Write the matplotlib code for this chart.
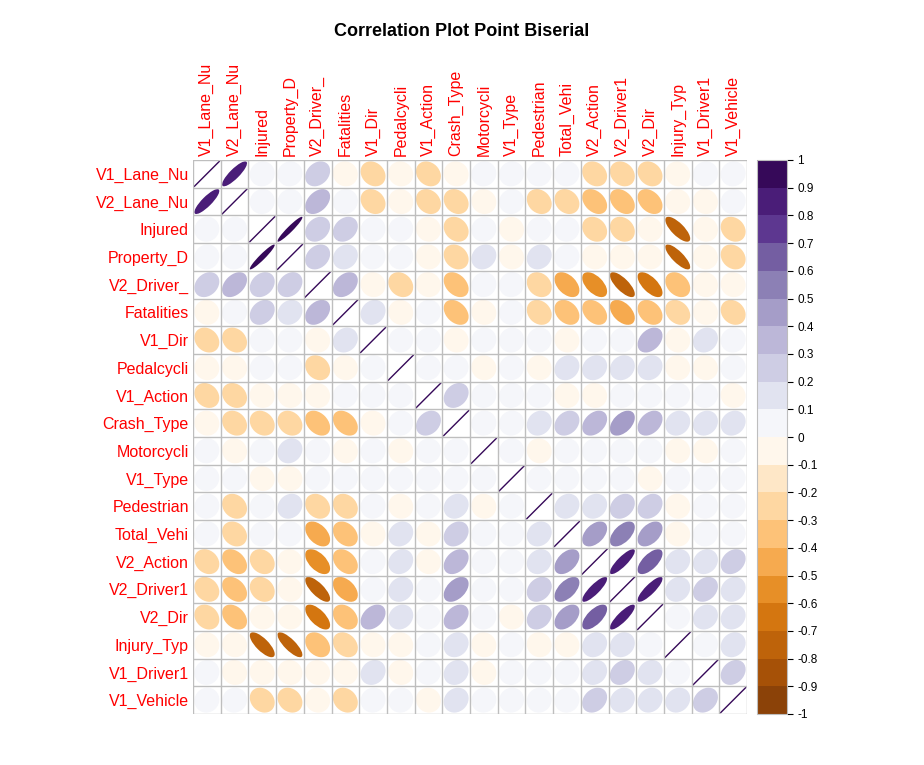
import numpy as np
import matplotlib
matplotlib.use("Agg")
import matplotlib.pyplot as plt
from matplotlib.patches import Ellipse
from matplotlib.colors import ListedColormap, BoundaryNorm, LinearSegmentedColormap
import matplotlib.colorbar as mcb

plt.rcParams['font.family'] = ['Liberation Sans', 'DejaVu Sans']

labels = ["V1_Lane_Nu","V2_Lane_Nu","Injured","Property_D","V2_Driver_","Fatalities","V1_Dir",
          "Pedalcycli","V1_Action","Crash_Type","Motorcycli","V1_Type","Pedestrian","Total_Vehi",
          "V2_Action","V2_Driver1","V2_Dir","Injury_Typ","V1_Driver1","V1_Vehicle"]

corr = [
 [1,.85,.05,.05,.25,-.05,-.2,-.05,-.2,-.05,.05,.05,.05,.05,-.2,-.2,-.2,-.05,.05,.05],
 [.85,1,.05,.05,.4,.05,-.2,-.05,-.2,-.2,-.05,.05,-.2,-.2,-.35,-.35,-.35,-.05,-.05,.05],
 [.05,.05,1,.95,.25,.25,.05,.05,-.05,-.2,.05,-.05,.05,.05,-.2,-.2,-.05,-.75,-.05,-.2],
 [.05,.05,.95,1,.25,.15,.05,.05,-.05,-.2,.15,-.05,.15,.05,-.05,-.05,-.05,-.8,-.05,-.2],
 [.25,.4,.25,.25,1,.35,-.05,-.2,-.05,-.35,.05,.05,-.2,-.45,-.55,-.75,-.65,-.3,-.05,-.05],
 [-.05,.05,.25,.15,.35,1,.15,-.05,.05,-.35,-.05,.05,-.2,-.3,-.35,-.45,-.3,-.25,-.05,-.2],
 [-.2,-.2,.05,.05,-.05,.15,1,.05,.05,-.05,.05,.05,.05,-.05,.05,.05,.35,-.05,.15,.05],
 [-.05,-.05,.05,.05,-.2,-.05,.05,1,.05,.05,-.05,.05,-.05,.15,.15,.15,.15,-.05,-.05,.05],
 [-.2,-.2,-.05,-.05,-.05,.05,.05,.05,1,.25,.05,.05,.05,-.05,-.05,.05,.05,.05,.05,-.05],
 [-.05,-.2,-.2,-.2,-.35,-.35,-.05,.05,.25,1,.05,.05,.15,.25,.35,.45,.35,.15,.15,.15],
 [.05,-.05,.05,.15,.05,-.05,.05,-.05,.05,.05,1,.05,-.05,.05,.05,.05,.05,-.05,-.05,.05],
 [.05,.05,-.05,-.05,.05,.05,.05,.05,.05,.05,.05,1,.05,.05,.05,.05,-.05,.05,.05,.05],
 [.05,-.2,.05,.15,-.2,-.2,.05,-.05,.05,.15,-.05,.05,1,.15,.15,.25,.25,-.05,.05,.05],
 [.05,-.2,.05,.05,-.45,-.3,-.05,.15,-.05,.25,.05,.05,.15,1,.45,.55,.45,-.05,.05,.05],
 [-.2,-.35,-.2,-.05,-.55,-.35,.05,.15,-.05,.35,.05,.05,.15,.45,1,.85,.65,.15,.15,.25],
 [-.2,-.35,-.2,-.05,-.75,-.45,.05,.15,.05,.45,.05,.05,.25,.55,.85,1,.85,.15,.25,.15],
 [-.2,-.35,-.05,-.05,-.65,-.3,.35,.15,.05,.35,.05,-.05,.25,.45,.65,.85,1,.05,.15,.15],
 [-.05,-.05,-.75,-.8,-.3,-.25,-.05,-.05,.05,.15,-.05,.05,-.05,-.05,.15,.15,.05,1,.05,.15],
 [.05,-.05,-.05,-.05,-.05,-.05,.15,-.05,.05,.15,-.05,.05,.05,.05,.15,.25,.15,.05,1,.25],
 [.05,.05,-.2,-.2,-.05,-.2,.05,.05,-.05,.15,.05,.05,.05,.05,.25,.15,.15,.15,.25,1],
]
corr = np.array(corr)
n = len(labels)

pal = ["#7F3B08","#B35806","#E08214","#FDB863","#FEE0B6","#FFFFFF",
       "#D8DAEB","#B2ABD2","#8073AC","#542788","#2D004B"]
base = LinearSegmentedColormap.from_list("col2", pal)
centers = np.linspace(-0.95, 0.95, 20)
cmap = ListedColormap([base((c + 1) / 2) for c in centers])
bounds = np.linspace(-1, 1, 21)
norm = BoundaryNorm(bounds, cmap.N)

fig = plt.figure(figsize=(9.24, 7.65), dpi=100)
ax = fig.add_axes([193/924, 51/765, 554/924, 554/765])
ax.set_xlim(0, n); ax.set_ylim(n, 0)
for i in range(n):
    for j in range(n):
        r = corr[i, j]
        col = cmap(norm(r))
        L = 0.9
        w = L * np.sqrt(1 + abs(r)); h = L * np.sqrt(max(1 - abs(r), 0.0))
        ang = -45 if r > 0 else 45
        if h < 0.02:
            d = 0.45
            s = 1 if r > 0 else -1
            ax.plot([j+0.5-d, j+0.5+d], [i+0.5+s*d, i+0.5-s*d], color=col, lw=1)
        else:
            ax.add_patch(Ellipse((j+0.5, i+0.5), w, h, angle=ang, facecolor=col, edgecolor='none'))
for k in range(n+1):
    ax.axhline(k, color='#BEBEBE', lw=1)
    ax.axvline(k, color='#BEBEBE', lw=1)
ax.set_xticks(np.arange(n)+0.5)
ax.set_yticks(np.arange(n)+0.5)
ax.set_xticklabels(labels, rotation=90, color='red', fontsize=11.5)
ax.set_yticklabels(labels, color='red', fontsize=11.5)
ax.xaxis.tick_top()
ax.tick_params(length=0, pad=3)
for s in ax.spines.values():
    s.set_visible(False)

cax = fig.add_axes([757/924, 51/765, 30/924, 554/765])
ticks = np.round(np.linspace(-1, 1, 21), 1)
cb = mcb.ColorbarBase(cax, cmap=cmap, norm=norm, boundaries=bounds, ticks=ticks)
cb.ax.set_yticklabels([("%g" % t) for t in ticks], fontsize=8.5)
cb.outline.set_edgecolor('#BEBEBE')
cb.ax.tick_params(length=4)

fig.suptitle("Correlation Plot Point Biserial", y=0.97, fontsize=13, fontweight='bold', x=0.5)
fig.savefig("out.png", dpi=100)
